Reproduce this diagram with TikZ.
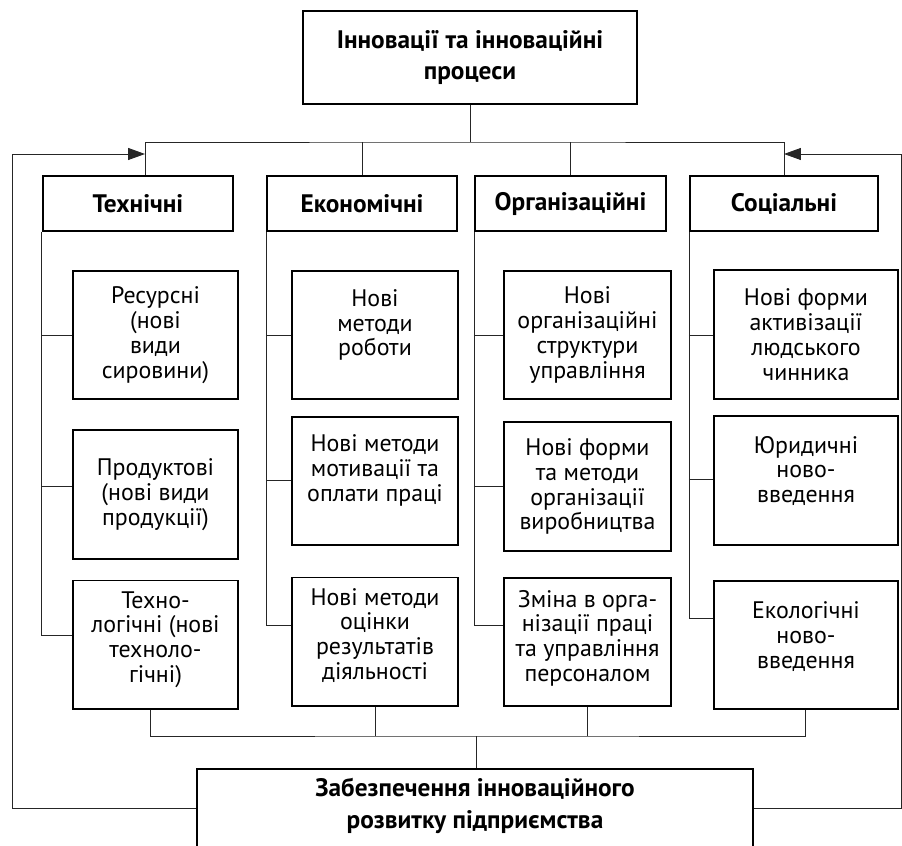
\documentclass[tikz,border=0pt]{standalone}
\usepackage{fontspec}
\setmainfont{PT Sans}
\usetikzlibrary{arrows.meta}
\tikzstyle{box}=[draw, line width=1.4pt, align=center]
\tikzstyle{title box}=[box, font=\bfseries\fontsize{18}{22.7}\selectfont]
\tikzstyle{kind box}=[box, font=\bfseries\fontsize{18}{20}\selectfont, minimum height=1.375cm]
\tikzstyle{leaf}=[box, font=\fontsize{17}{17.7}\selectfont, minimum height=3.2cm, inner sep=1pt]
\tikzstyle{link}=[line width=0.7pt, black!85]
\tikzstyle{feedback}=[link, -{Triangle[length=12pt, width=8.5pt]}]

\begin{document}
\begin{tikzpicture}[x=0.025cm, y=-0.025cm]
  \useasboundingbox (0,0) rectangle (902,846);
  \clip (0,0) rectangle (902,846);

  % top and the four kinds
  \node[title box, minimum width=8.35cm, minimum height=2.325cm] (top) at (470,57.5) {Інновації та інноваційні\\процеси};
  \node[kind box, minimum width=4.75cm] (tech) at (138,203.5) {Технічні};
  \node[kind box, minimum width=4.75cm] (econ) at (362,203.5) {Економічні};
  \node[kind box, minimum width=4.775cm] (org) at (570.5,203.5) {Організаційні};
  \node[kind box, minimum width=4.7cm] (soc) at (784,203.5) {Соціальні};

  % columns (a trailing \\[..] lifts the text a little)
  \node[leaf, minimum width=4.125cm] (t1) at (155.5,335) {Ресурсні\\(нові\\види\\сировини)};
  \node[leaf, minimum width=4.125cm] (t2) at (155.5,494.5) {Продуктові\\(нові види\\продукції)};
  \node[leaf, minimum width=4.125cm] (t3) at (155.5,644.5) {Техно-\\логічні (нові\\техноло-\\гічні)\\[-7pt]};

  \node[leaf, minimum width=4.15cm] (e1) at (375,335) {Нові\\методи\\роботи\\[0pt]};
  \node[leaf, minimum width=4.15cm] (e2) at (375,481) {Нові методи\\мотивації та\\оплати праці\\[1pt]};
  \node[leaf, minimum width=4.15cm] (e3) at (375,641.5) {Нові методи\\оцінки\\результатів\\діяльності\\[-7pt]};

  \node[leaf, minimum width=4.175cm] (o1) at (587.5,335) {Нові\\організаційні\\структури\\управління};
  \node[leaf, minimum width=4.175cm] (o2) at (587.5,486.5) {Нові форми\\та методи\\організації\\виробництва};
  \node[leaf, minimum width=4.175cm] (o3) at (587.5,642) {Зміна в орга-\\нізації праці\\та управління\\персоналом\\[-9pt]};

  \node[leaf, minimum width=4.6cm] (s1) at (806,334.5) {Нові форми\\активізації\\людського\\чинника};
  \node[leaf, minimum width=4.6cm] (s2) at (806,480.5) {Юридичні\\ново-\\введення\\[-2pt]};
  \node[leaf, minimum width=4.6cm] (s3) at (806,645) {Екологічні\\ново-\\введення\\[-4pt]};

  % bottom block
  \node[title box, anchor=north, minimum width=13.9cm, inner ysep=6.5pt] (base) at (475,768)
    {Забезпечення інноваційного\\розвитку підприємства\\[60pt]};

  % links from the top
  \coordinate (bus) at (470,142);
  \draw[link] (top) -- (bus);
  \draw[link] (tech.north -| 145,0) |- (bus) -| (soc.north -| 784,0);
  \draw[link] (econ.north -| 362,0) -- (362,142);
  \draw[link] (org.north -| 570,0) -- (570,142);

  % trunks and branches
  \draw[link] (tech.south west) |- (t3.west |- 0,635);
  \foreach \b/\y in {t1/335, t2/486}
    \draw[link] (tech.south west |- 0,\y) -- (\b.west |- 0,\y);
  \draw[link] (econ.south west) |- (e3.west |- 0,625);
  \foreach \b/\y in {e1/335, e2/480}
    \draw[link] (econ.south west |- 0,\y) -- (\b.west |- 0,\y);
  \draw[link] (org.south west) |- (o3.west |- 0,625);
  \foreach \b/\y in {o1/335, o2/486}
    \draw[link] (org.south west |- 0,\y) -- (\b.west |- 0,\y);
  \draw[link] (soc.south west) |- (s3.west |- 0,618);
  \foreach \b/\y in {s1/335, s2/479}
    \draw[link] (soc.south west |- 0,\y) -- (\b.west |- 0,\y);

  % links to the bottom
  \coordinate (join) at (476,736);
  \draw[link] (t3.south -| 150,0) |- (join) -| (s3.south -| 805,0);
  \draw[link] (e3) -- (e3 |- join);
  \draw[link] (o3) -- (o3 |- join);
  \draw[link] (join) -- (join |- base.north);

  % feedback
  \coordinate (tech in) at (145,154);
  \coordinate (soc in) at (784,154);
  \draw[feedback] (base.west |- 0,808) -| (12,154) -- (tech in);
  \draw[feedback] (base.east |- 0,808) -| (901,154) -- (soc in);
\end{tikzpicture}
\end{document}
